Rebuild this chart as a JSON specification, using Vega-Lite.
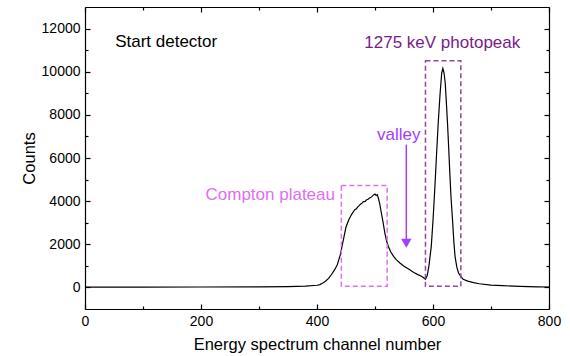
{
  "$schema": "https://vega.github.io/schema/vega-lite/v6.json",
  "width": 464,
  "height": 302,
  "autosize": {"type": "none"},
  "padding": {"left": 85, "top": 7, "right": 21, "bottom": 47},
  "background": "white",
  "config": {
    "view": {"stroke": null},
    "font": "Liberation Sans",
    "axis": {"grid": false, "domainColor": "black", "domainWidth": 1.2, "tickColor": "black", "tickWidth": 1.2, "labelColor": "black", "titleColor": "black", "labelFont": "Liberation Sans", "titleFont": "Liberation Sans", "labelFontSize": 14, "titleFontSize": 16.5, "titleFontWeight": "normal"}
  },
  "datasets": {
    "spec": [
      {"ch": 0, "c": 10}, {"ch": 100, "c": 15}, {"ch": 200, "c": 20}, {"ch": 300, "c": 30}, {"ch": 350, "c": 40}, {"ch": 380, "c": 60}, {"ch": 400, "c": 100},
      {"ch": 405, "c": 130}, {"ch": 410, "c": 200}, {"ch": 415, "c": 300}, {"ch": 420, "c": 420}, {"ch": 425, "c": 600}, {"ch": 430, "c": 800}, {"ch": 435, "c": 1050}, {"ch": 440, "c": 1500},
      {"ch": 445, "c": 2150}, {"ch": 450, "c": 2800}, {"ch": 455, "c": 3150}, {"ch": 460, "c": 3400}, {"ch": 463, "c": 3520}, {"ch": 465, "c": 3600}, {"ch": 468, "c": 3650}, {"ch": 470, "c": 3720}, {"ch": 473, "c": 3800}, {"ch": 475, "c": 3860},
      {"ch": 478, "c": 3920}, {"ch": 480, "c": 3980}, {"ch": 483, "c": 3990}, {"ch": 485, "c": 4050}, {"ch": 488, "c": 4090}, {"ch": 490, "c": 4130}, {"ch": 493, "c": 4180}, {"ch": 495, "c": 4220}, {"ch": 498, "c": 4300}, {"ch": 500, "c": 4330}, {"ch": 502, "c": 4260},
      {"ch": 504, "c": 4300}, {"ch": 506, "c": 4120}, {"ch": 508, "c": 3900}, {"ch": 511, "c": 3450}, {"ch": 514, "c": 3000}, {"ch": 517, "c": 2520}, {"ch": 520, "c": 2150}, {"ch": 523, "c": 1900}, {"ch": 527, "c": 1650},
      {"ch": 532, "c": 1440}, {"ch": 537, "c": 1280}, {"ch": 543, "c": 1130}, {"ch": 550, "c": 980}, {"ch": 555, "c": 900}, {"ch": 560, "c": 820}, {"ch": 565, "c": 730}, {"ch": 570, "c": 650}, {"ch": 575, "c": 580}, {"ch": 580, "c": 520}, {"ch": 584, "c": 450}, {"ch": 587, "c": 380},
      {"ch": 590, "c": 550}, {"ch": 593, "c": 1000}, {"ch": 597, "c": 1900}, {"ch": 600, "c": 3100}, {"ch": 603, "c": 4530}, {"ch": 606, "c": 6100}, {"ch": 609, "c": 7620}, {"ch": 612, "c": 8900}, {"ch": 615, "c": 9940}, {"ch": 617, "c": 10150},
      {"ch": 619, "c": 9950}, {"ch": 621, "c": 9500}, {"ch": 623, "c": 8600}, {"ch": 625, "c": 7620}, {"ch": 627, "c": 6500}, {"ch": 629, "c": 5300}, {"ch": 631, "c": 4200}, {"ch": 634, "c": 2990}, {"ch": 636, "c": 2100}, {"ch": 638, "c": 1440},
      {"ch": 641, "c": 950}, {"ch": 644, "c": 670}, {"ch": 648, "c": 500}, {"ch": 652, "c": 380}, {"ch": 660, "c": 290}, {"ch": 670, "c": 220}, {"ch": 680, "c": 170}, {"ch": 700, "c": 110}, {"ch": 720, "c": 80}, {"ch": 750, "c": 50}, {"ch": 780, "c": 30}, {"ch": 800, "c": 20}
    ],
    "boxes": [
      {"x1": 442, "x2": 521, "y1": 50, "y2": 4720, "col": "compton"},
      {"x1": 587, "x2": 648, "y1": 50, "y2": 10510, "col": "peak"}
    ],
    "labelsL": [{"x": 52, "y": 11400, "t": "Start detector", "col": "black"}],
    "labelsC": [
      {"x": 616, "y": 11350, "t": "1275 keV photopeak", "col": "peak"},
      {"x": 541, "y": 7080, "t": "valley", "col": "valley"}
    ],
    "labelsR": [{"x": 431, "y": 4290, "t": "Compton plateau", "col": "compton"}],
    "arrow": [{"x": 554, "y1": 6620, "y2": 2100}],
    "head": [{"x": 554, "y": 2050}]
  },
  "layer": [
    {
      "data": {"name": "spec"},
      "mark": {"type": "line", "color": "black", "strokeWidth": 1.2},
      "encoding": {
        "x": {"field": "ch", "type": "quantitative", "scale": {"domain": [0, 800], "nice": false},
          "axis": {"orient": "bottom", "title": "Energy spectrum channel number", "values": [0, 100, 200, 300, 400, 500, 600, 700, 800],
            "labelExpr": "datum.value % 200 === 0 ? datum.label : ''",
            "tickSize": {"condition": {"test": "datum.value % 200 === 0", "value": -5}, "value": -3},
            "labelPadding": 10, "titlePadding": 6, "labelFlush": false, "labelOverlap": false}},
        "y": {"field": "c", "type": "quantitative", "scale": {"domain": [-1000, 13000], "nice": false, "zero": false},
          "axis": {"orient": "left", "title": "Counts", "values": [0, 1000, 2000, 3000, 4000, 5000, 6000, 7000, 8000, 9000, 10000, 11000, 12000],
            "labelExpr": "datum.value % 2000 === 0 ? datum.label : ''", "format": "d",
            "tickSize": {"condition": {"test": "datum.value % 2000 === 0", "value": -5}, "value": -3},
            "labelPadding": 10, "titlePadding": 4, "labelOverlap": false}}
      }
    },
    {
      "data": {"name": "spec"},
      "mark": {"type": "line", "strokeOpacity": 0},
      "encoding": {
        "x": {"field": "ch", "type": "quantitative", "scale": {"domain": [0, 800], "nice": false},
          "axis": {"orient": "top", "title": null, "labels": false, "values": [0, 100, 200, 300, 400, 500, 600, 700, 800],
            "tickSize": {"condition": {"test": "datum.value % 200 === 0", "value": -5}, "value": -3}}},
        "y": {"field": "c", "type": "quantitative", "scale": {"domain": [-1000, 13000], "nice": false, "zero": false},
          "axis": {"orient": "right", "title": null, "labels": false, "values": [0, 1000, 2000, 3000, 4000, 5000, 6000, 7000, 8000, 9000, 10000, 11000, 12000],
            "tickSize": {"condition": {"test": "datum.value % 2000 === 0", "value": -5}, "value": -3}}}
      }
    },
    {
      "data": {"name": "boxes"},
      "mark": {"type": "rect", "fill": null, "strokeWidth": 1.5, "strokeDash": [5, 3]},
      "encoding": {
        "x": {"field": "x1", "type": "quantitative", "axis": null},
        "x2": {"field": "x2"},
        "y": {"field": "y1", "type": "quantitative", "axis": null},
        "y2": {"field": "y2"},
        "stroke": {"field": "col", "type": "nominal", "scale": {"domain": ["compton", "peak", "valley", "black"], "range": ["#E06EF2", "#8E44A8", "#A040FF", "#000000"]}, "legend": null}
      }
    },
    {
      "data": {"name": "arrow"},
      "mark": {"type": "rule", "color": "#A040FF", "strokeWidth": 1.5},
      "encoding": {
        "x": {"field": "x", "type": "quantitative", "axis": null},
        "y": {"field": "y1", "type": "quantitative", "axis": null},
        "y2": {"field": "y2"}
      }
    },
    {
      "data": {"name": "head"},
      "mark": {"type": "point", "shape": "triangle-down", "filled": true, "color": "#A040FF", "opacity": 1, "size": 110},
      "encoding": {
        "x": {"field": "x", "type": "quantitative", "axis": null},
        "y": {"field": "y", "type": "quantitative", "axis": null}
      }
    },
    {
      "data": {"name": "labelsL"},
      "mark": {"type": "text", "fontSize": 17, "baseline": "middle", "align": "left", "font": "Liberation Sans", "color": "black"},
      "encoding": {
        "x": {"field": "x", "type": "quantitative", "axis": null},
        "y": {"field": "y", "type": "quantitative", "axis": null},
        "text": {"field": "t"}
      }
    },
    {
      "data": {"name": "labelsC"},
      "mark": {"type": "text", "fontSize": 17, "baseline": "middle", "align": "center", "font": "Liberation Sans"},
      "encoding": {
        "x": {"field": "x", "type": "quantitative", "axis": null},
        "y": {"field": "y", "type": "quantitative", "axis": null},
        "text": {"field": "t"},
        "color": {"field": "col", "type": "nominal", "scale": {"domain": ["compton", "peak", "valley", "black"], "range": ["#E06EF2", "#7B1A8C", "#A040FF", "#000000"]}, "legend": null}
      }
    },
    {
      "data": {"name": "labelsR"},
      "mark": {"type": "text", "fontSize": 17, "baseline": "middle", "align": "right", "font": "Liberation Sans", "color": "#E06EF2"},
      "encoding": {
        "x": {"field": "x", "type": "quantitative", "axis": null},
        "y": {"field": "y", "type": "quantitative", "axis": null},
        "text": {"field": "t"}
      }
    }
  ],
  "resolve": {"axis": {"x": "independent", "y": "independent"}}
}
